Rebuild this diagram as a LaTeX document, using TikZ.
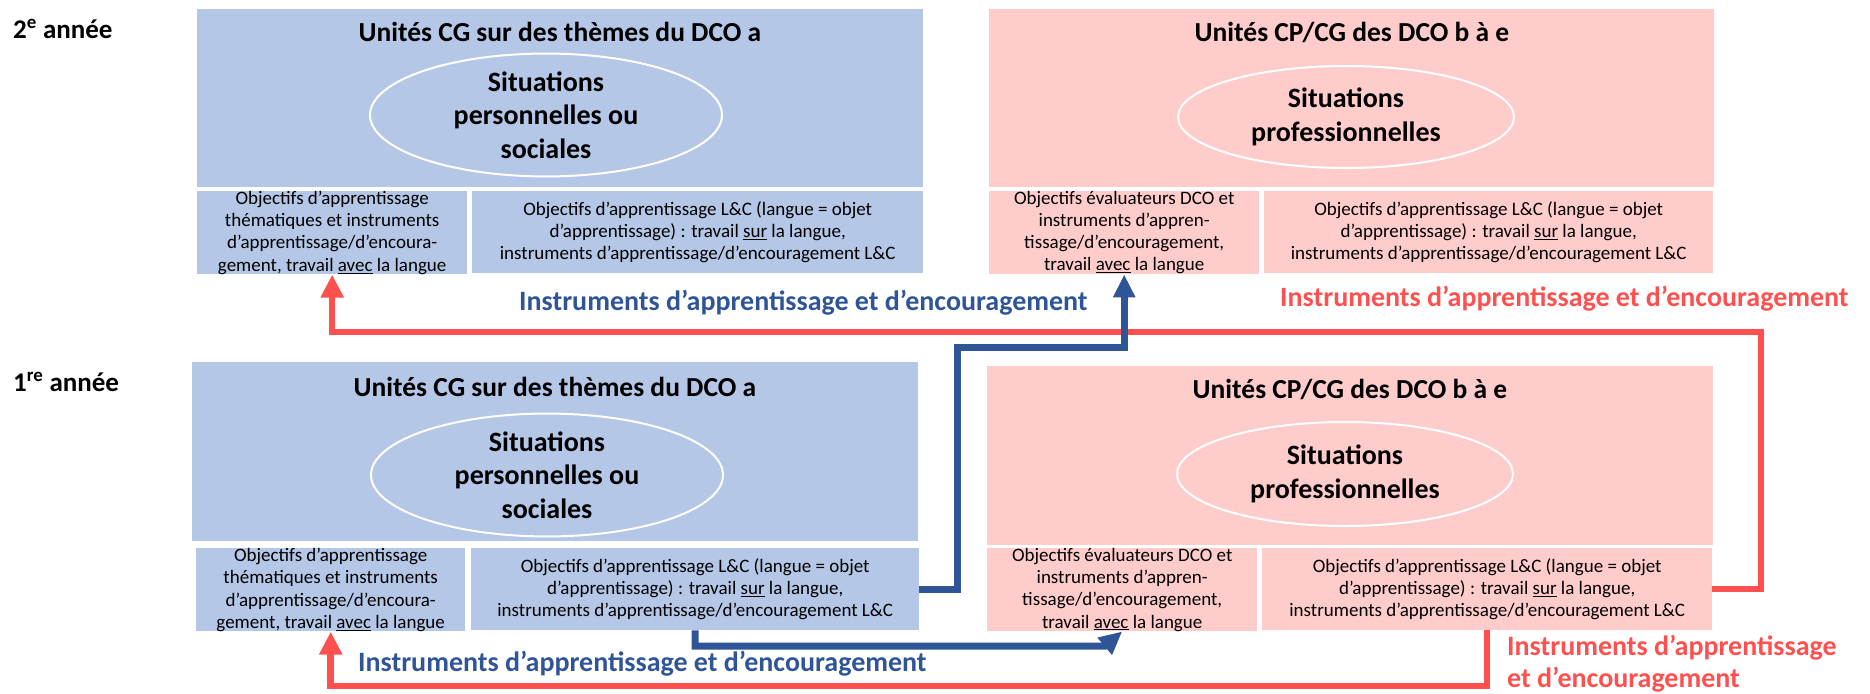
\documentclass[tikz,border=0pt]{standalone}
\usepackage{fontspec}
\setmainfont{Carlito}
\usetikzlibrary{shapes.geometric,arrows.meta}
\definecolor{boxblue}{HTML}{B4C7E7}
\definecolor{boxpink}{HTML}{FFCCCC}
\definecolor{lblue}{HTML}{2F5597}
\definecolor{lred}{HTML}{FF5050}
\begin{document}
\begin{tikzpicture}[x=1pt,y=-1pt,
  bluebox/.style={fill=boxblue, inner sep=0pt, anchor=north west},
  pinkbox/.style={fill=boxpink, inner sep=0pt, anchor=north west},
  subtext/.style={align=center, font=\fontsize{19}{22.2}\selectfont},
  titletext/.style={anchor=base, inner sep=0pt, font=\fontsize{27.5}{30}\selectfont\bfseries},
  elltext/.style={ellipse, draw=white, line width=2pt, inner sep=0pt, align=center, font=\fontsize{28}{33.5}\selectfont\bfseries},
  yeartext/.style={anchor=base west, inner sep=0pt, font=\fontsize{27}{29}\selectfont\bfseries},
  lbl/.style={anchor=base west, inner sep=0pt, font=\fontsize{28}{31.5}\selectfont\bfseries},
  redconn/.style={draw=lred, line width=6.5pt, -{Triangle[length=23pt, width=22pt]}},
  blueconn/.style={draw=lblue, line width=7pt, -{Triangle[length=23pt, width=21pt]}},
]
\useasboundingbox (0,0) rectangle (1870,693);

% year labels
\node[yeartext] (y2) at (13,38) {2\textsuperscript{e} année};
\node[yeartext] (y1) at (13,391) {1\textsuperscript{re} année};

% ---- top left
\node[bluebox, minimum width=726pt, minimum height=178pt] (tl) at (197,9) {};
\node[titletext] (tlT) at (560,42) {Unités CG sur des thèmes du DCO a};
\node[elltext, minimum width=352pt, minimum height=104pt] (tlE) at (546,115) {Situations\\personnelles ou\\sociales};
\node[bluebox, subtext, minimum width=270pt, minimum height=82pt] (tlL) at (197,191) {Objectifs d’apprentissage\\thématiques et instruments\\d’apprentissage/d’encoura-\\gement, travail \underline{avec} la langue};
\node[bluebox, subtext, minimum width=451pt, minimum height=82pt] (tlR) at (472,191) {Objectifs d’apprentissage L\&C (langue = objet\\d’apprentissage) : travail \underline{sur} la langue,\\instruments d’apprentissage/d’encouragement L\&C};

% ---- top right
\node[pinkbox, minimum width=725pt, minimum height=178pt] (tr) at (989,9) {};
\node[titletext] (trT) at (1352,42) {Unités CP/CG des DCO b à e};
\node[elltext, minimum width=336pt, minimum height=102pt] (trE) at (1346,117) {Situations\\professionnelles};
\node[pinkbox, subtext, minimum width=270pt, minimum height=82pt] (trL) at (989,191) {Objectifs évaluateurs DCO et\\instruments d’appren-\\tissage/d’encouragement,\\travail \underline{avec} la langue};
\node[pinkbox, subtext, minimum width=449pt, minimum height=82pt] (trR) at (1264,191) {Objectifs d’apprentissage L\&C (langue = objet\\d’apprentissage) : travail \underline{sur} la langue,\\instruments d’apprentissage/d’encouragement L\&C};

% ---- bottom left
\node[bluebox, minimum width=726pt, minimum height=179pt] (bl) at (192,362) {};
\node[titletext] (blT) at (555,396) {Unités CG sur des thèmes du DCO a};
\node[elltext, minimum width=352pt, minimum height=104pt] (blE) at (547,475) {Situations\\personnelles ou\\sociales};
\node[bluebox, subtext, minimum width=269pt, minimum height=82pt] (blL) at (196,548) {Objectifs d’apprentissage\\thématiques et instruments\\d’apprentissage/d’encoura-\\gement, travail \underline{avec} la langue};
\node[bluebox, subtext, minimum width=448pt, minimum height=82pt] (blR) at (471,548) {Objectifs d’apprentissage L\&C (langue = objet\\d’apprentissage) : travail \underline{sur} la langue,\\instruments d’apprentissage/d’encouragement L\&C};

% ---- bottom right
\node[pinkbox, minimum width=726pt, minimum height=179pt] (br) at (987,366) {};
\node[titletext] (brT) at (1350,398) {Unités CP/CG des DCO b à e};
\node[elltext, minimum width=336pt, minimum height=104pt] (brE) at (1345,474) {Situations\\professionnelles};
\node[pinkbox, subtext, minimum width=270pt, minimum height=82pt] (brL) at (987,548) {Objectifs évaluateurs DCO et\\instruments d’appren-\\tissage/d’encouragement,\\travail \underline{avec} la langue};
\node[pinkbox, subtext, minimum width=450pt, minimum height=82pt] (brR) at (1262,548) {Objectifs d’apprentissage L\&C (langue = objet\\d’apprentissage) : travail \underline{sur} la langue,\\instruments d’apprentissage/d’encouragement L\&C};

% ---- labels
\node[lbl, text=lblue] (lb1) at (519,310) {Instruments d’apprentissage et d’encouragement};
\node[lbl, text=lred] (lr1) at (1280,306) {Instruments d’apprentissage et d’encouragement};
\node[lbl, text=lblue] (lb2) at (358,671) {Instruments d’apprentissage et d’encouragement};
\node[lbl, text=lred, align=left, anchor=north west] (lr2) at (1507,635) {Instruments d’apprentissage\\et d’encouragement};

% ---- connectors
\draw[redconn] (brR.east) -| (1761,332) -| (tlL.south);
\draw[redconn] (brR.south) -- (brR.south |- 0,686) -| (blL.south);
\draw[blueconn] (blR.east) -| (957,347) -| (trL.south);
\draw[blueconn] (blR.south) |- (1105,646) -- (brL.south);
\end{tikzpicture}
\end{document}
